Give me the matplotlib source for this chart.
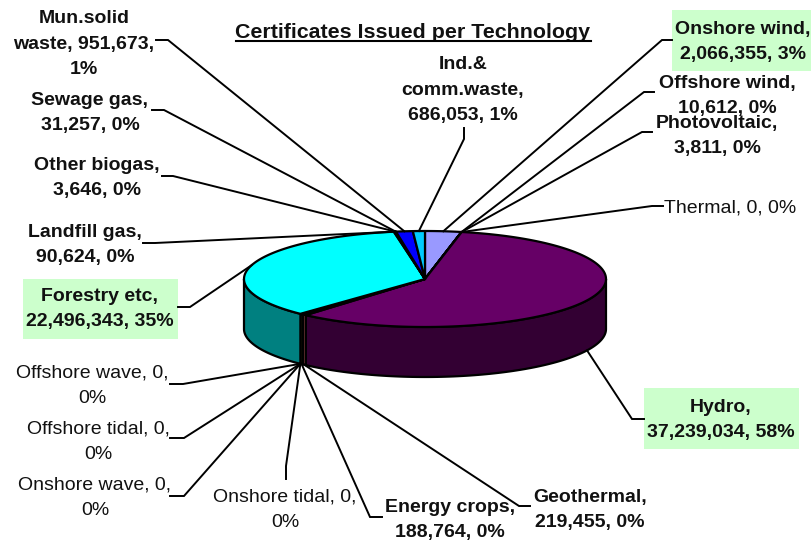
import numpy as np
import matplotlib
matplotlib.use('Agg')
import matplotlib.pyplot as plt
from matplotlib.patches import Rectangle

plt.rcParams['font.family'] = ['Liberation Sans', 'DejaVu Sans']

# slices run clockwise from 12 o'clock
names = ['Onshore wind', 'Offshore wind', 'Photovoltaic', 'Thermal', 'Hydro', 'Geothermal',
         'Energy crops', 'Onshore tidal', 'Onshore wave', 'Offshore tidal', 'Offshore wave',
         'Forestry etc', 'Landfill gas', 'Other biogas', 'Sewage gas', 'Mun.solid waste',
         'Ind.& comm.waste']
values = [2066355, 10612, 3811, 0, 37239034, 219455,
          188764, 0, 0, 0, 0,
          22496343, 90624, 3646, 31257, 951673,
          686053]
labels = ['Onshore wind,\n2,066,355, 3%', 'Offshore wind,\n10,612, 0%', 'Photovoltaic,\n3,811, 0%',
          'Thermal, 0, 0%', 'Hydro,\n37,239,034, 58%', 'Geothermal,\n219,455, 0%',
          'Energy crops,\n188,764, 0%', 'Onshore tidal, 0,\n0%', 'Onshore wave, 0,\n0%',
          'Offshore tidal, 0,\n0%', 'Offshore wave, 0,\n0%', 'Forestry etc,\n22,496,343, 35%',
          'Landfill gas,\n90,624, 0%', 'Other biogas,\n3,646, 0%', 'Sewage gas,\n31,257, 0%',
          'Mun.solid\nwaste, 951,673,\n1%', 'Ind.&\ncomm.waste,\n686,053, 1%']
top_colors = ['#9999FF', '#993366', '#FFFFCC', '#CCFFFF', '#660066', '#FF8080',
              '#808000', '#CCCCFF', '#000080', '#FF00FF', '#FFFF00',
              '#00FFFF', '#800080', '#800000', '#008080', '#0000FF', '#00CCFF']
bold = [True, True, True, False, True, True, True, False, False, False, False,
        True, True, True, True, True, True]

# label centre, then the two leader points on the label side
label_xy = [(743, 42), (727, 96), (717, 136), (730, 208), (721, 420), (590, 510),
            (450, 520), (285, 510), (95, 498), (98, 442), (92, 386), (100, 309),
            (85, 245), (97, 178), (90, 113), (84, 44), (463, 90)]
leader_xy = [[(672, 40), (662, 40)], [(654, 92), (644, 92)], [(652, 132), (642, 132)],
             [(663, 206), (652, 206)], [(644, 419), (632, 419)], [(530, 506), (519, 506)],
             [(382, 517), (370, 517)], [(286, 479), (286, 466)], [(170, 496), (184, 496)],
             [(170, 438), (184, 438)], [(170, 384), (183, 384)], [(178, 307), (190, 307)],
             [(143, 243), (155, 243)], [(162, 176), (173, 176)], [(152, 110), (164, 110)],
             [(156, 40), (168, 40)], [(464, 128), (464, 139)]]
green_boxes = [(672, 10, 140, 61), (644, 388, 155, 61), (23, 279, 155, 60)]

cx, cy, rx, ry, depth = 425, 279, 181, 48, 50
edge = 1.6


def ell(theta, dy=0):
    return cx + rx * np.sin(theta), cy - ry * np.cos(theta) + dy


def darker(c):
    rgb = matplotlib.colors.to_rgb(c)
    return tuple(v * 0.5 for v in rgb)


fig = plt.figure(figsize=(8.12, 5.42), dpi=100)
ax = fig.add_axes([0, 0, 1, 1])
ax.set_xlim(0, 812)
ax.set_ylim(542, 0)
ax.axis('off')

for x, y, w, h in green_boxes:
    ax.add_patch(Rectangle((x, y), w, h, fc='#CCFFCC', ec='none', zorder=1))

fracs = np.array(values) / sum(values)
edges = np.concatenate([[0], np.cumsum(fracs)]) * 2 * np.pi

# rim first, only the part that faces the viewer
for i, c in enumerate(top_colors):
    a0, a1 = max(edges[i], np.pi / 2), min(edges[i + 1], 3 * np.pi / 2)
    if a1 <= a0:
        continue
    t = np.linspace(a0, a1, 100)
    xs, ys = ell(t)
    xb, yb = ell(t[::-1], depth)
    ax.fill(np.r_[xs, xb], np.r_[ys, yb], fc=darker(c), ec='k', lw=edge, zorder=2, joinstyle='round')

# top face
for i, c in enumerate(top_colors):
    if values[i] == 0:
        continue
    t = np.linspace(edges[i], edges[i + 1], 200)
    xs, ys = ell(t)
    ax.fill(np.r_[cx, xs], np.r_[cy, ys], fc=c, ec='k', lw=edge, zorder=3, joinstyle='round')

# leaders and labels
for i, name in enumerate(names):
    mid = (edges[i] + edges[i + 1]) / 2
    front = np.pi / 2 < mid < 3 * np.pi / 2
    ax_, ay_ = ell(mid, depth if front else 0)
    (x0, y0), (x1, y1) = leader_xy[i]
    ax.plot([x0, x1, ax_], [y0, y1, ay_], color='k', lw=1.4, zorder=4, solid_joinstyle='miter')
    ax.text(label_xy[i][0], label_xy[i][1], labels[i], ha='center', va='center', multialignment='center',
            fontsize=14, fontweight='bold' if bold[i] else 'normal', color='#111111',
            linespacing=1.65, zorder=5)

ax.text(413, 32, 'Certificates Issued per Technology', ha='center', va='center',
        fontsize=15.4, fontweight='bold', color='#111111', zorder=5)
ax.plot([236, 591], [41, 41], color='k', lw=1.5, zorder=5)

fig.savefig('out.png', dpi=100)
